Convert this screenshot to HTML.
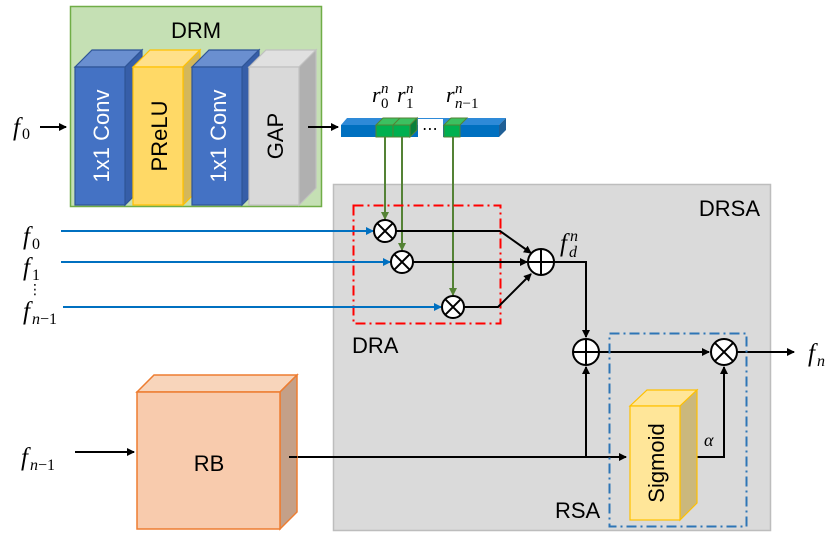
<!DOCTYPE html>
<html><head><meta charset="utf-8"><style>
html,body{margin:0;padding:0;background:#fff;}
svg{display:block;}
text{font-family:"Liberation Sans","DejaVu Sans",sans-serif;}
.m{font-family:"Liberation Serif","DejaVu Serif",serif;font-style:italic;}
.s{font-family:"Liberation Serif","DejaVu Serif",serif;}
</style></head><body>
<svg width="831" height="535" viewBox="0 0 831 535" xmlns="http://www.w3.org/2000/svg">
<defs>
<marker id="ab" markerWidth="8" markerHeight="8" refX="7" refY="4" orient="auto" markerUnits="userSpaceOnUse"><path d="M0,0 L8,4 L0,8 z" fill="#000"/></marker>
<marker id="au" markerWidth="8" markerHeight="8" refX="7" refY="4" orient="auto" markerUnits="userSpaceOnUse"><path d="M0,0 L8,4 L0,8 z" fill="#0070c0"/></marker>
<marker id="ag" markerWidth="8" markerHeight="8" refX="7" refY="4" orient="auto" markerUnits="userSpaceOnUse"><path d="M0,0 L8,4 L0,8 z" fill="#548235"/></marker>
</defs>
<rect x="333.5" y="184.5" width="437" height="346" fill="#dadada" stroke="#bdbdbd" stroke-width="1.5"/>
<text x="760" y="216" font-size="22" text-anchor="end">DRSA</text>
<rect x="70.5" y="6.5" width="251" height="200" fill="#c5e0b4" stroke="#70ad47" stroke-width="1.5"/>
<text x="196" y="38" font-size="22" text-anchor="middle">DRM</text>
<g stroke-width="1.2">
<polygon points="75,67 92,50 142,50 125,67" fill="#6a8fd0" stroke="#2f5597"/>
<polygon points="125,67 142,50 142,188 125,205" fill="#365ea8" stroke="#2f5597"/>
<rect x="75" y="67" width="50" height="138" fill="#4472c4" stroke="#2f5597"/>
<polygon points="133,67 150,50 200,50 183,67" fill="#ffe08a" stroke="#ffc000"/>
<polygon points="183,67 200,50 200,188 183,205" fill="#d4b75a" stroke="#ffc000"/>
<rect x="133" y="67" width="50" height="138" fill="#ffd966" stroke="#ffc000"/>
<polygon points="192,67 209,50 259,50 242,67" fill="#6a8fd0" stroke="#2f5597"/>
<polygon points="242,67 259,50 259,188 242,205" fill="#365ea8" stroke="#2f5597"/>
<rect x="192" y="67" width="50" height="138" fill="#4472c4" stroke="#2f5597"/>
<polygon points="249,67 266,50 316,50 299,67" fill="#e0e0e0" stroke="#c0c0c0"/>
<polygon points="299,67 316,50 316,188 299,205" fill="#b0b0b0" stroke="#c0c0c0"/>
<rect x="249" y="67" width="50" height="138" fill="#d9d9d9" stroke="#c0c0c0"/>
</g>
<text transform="translate(109,136) rotate(-90)" font-size="22" fill="#fff" text-anchor="middle">1x1 Conv</text>
<text transform="translate(167,136) rotate(-90)" font-size="22" fill="#000" text-anchor="middle">PReLU</text>
<text transform="translate(226,136) rotate(-90)" font-size="22" fill="#fff" text-anchor="middle">1x1 Conv</text>
<text transform="translate(283,136) rotate(-90)" font-size="22" fill="#000" text-anchor="middle">GAP</text>
<text x="13" y="135" class="m" font-size="25">f</text><text x="22" y="139" class="s" font-size="16">0</text>
<line x1="40" y1="127" x2="66" y2="127" stroke="#000" stroke-width="2" marker-end="url(#ab)"/>
<line x1="308" y1="127" x2="338" y2="127" stroke="#000" stroke-width="2" marker-end="url(#ab)"/>
<polygon points="341,125 347,118 506,118 499,125" fill="#2e8ad8"/>
<polygon points="499,125 506,118 506,130 499,137" fill="#1f5f96"/>
<rect x="341" y="125" width="158" height="12" fill="#0070c0"/>
<g stroke="#548235" stroke-width="1">
<polygon points="376,125 383,118 417,118 410,125" fill="#3cc060"/>
<polygon points="410,125 417,118 417,130 410,137" fill="#08803a"/>
<rect x="376" y="125" width="17" height="12" fill="#00b050"/>
<rect x="393" y="125" width="17" height="12" fill="#00b050"/>
<line x1="393" y1="125" x2="400" y2="118"/>
<rect x="418" y="119" width="25" height="20" fill="#fff" stroke="none"/>
<polygon points="444,125 451,118 467,118 460,125" fill="#3cc060"/>
<rect x="444" y="125" width="16" height="12" fill="#00b050"/>
</g>
<text x="430" y="134" font-size="16" text-anchor="middle">⋯</text>
<!-- r labels -->
<text x="372" y="102" class="m" font-size="22">r</text><text x="381" y="108" class="s" font-size="15">0</text><text x="381" y="93" class="m" font-size="15">n</text>
<text x="397" y="102" class="m" font-size="22">r</text><text x="406" y="108" class="s" font-size="15">1</text><text x="406" y="93" class="m" font-size="15">n</text>
<text x="446" y="102" class="m" font-size="22">r</text><text x="455" y="108" class="m" font-size="15">n<tspan class="s" font-style="normal">−1</tspan></text><text x="455" y="93" class="m" font-size="15">n</text>
<g stroke="#548235" stroke-width="2">
<line x1="385" y1="137" x2="385" y2="219" marker-end="url(#ag)"/>
<line x1="402" y1="137" x2="402" y2="250" marker-end="url(#ag)"/>
<line x1="453" y1="137" x2="453" y2="295" marker-end="url(#ag)"/>
</g>
<rect x="353.5" y="205.5" width="147" height="118" fill="none" stroke="#ff0000" stroke-width="2" stroke-dasharray="10,4,2,4"/>
<text x="352" y="353" font-size="22">DRA</text>
<g stroke="#0070c0" stroke-width="2">
<line x1="61" y1="231" x2="373" y2="231" marker-end="url(#au)"/>
<line x1="61" y1="262" x2="390" y2="262" marker-end="url(#au)"/>
<line x1="63" y1="307" x2="441" y2="307" marker-end="url(#au)"/>
</g>
<text x="23" y="244" class="m" font-size="25">f</text><text x="32" y="249" class="s" font-size="16">0</text>
<text x="23" y="275" class="m" font-size="25">f</text><text x="32" y="280" class="s" font-size="16">1</text>
<text x="28" y="294" font-size="14">⋮</text>
<text x="23" y="319" class="m" font-size="25">f</text><text x="32" y="324" class="m" font-size="16">n<tspan class="s" font-style="normal">−1</tspan></text>
<g stroke="#000" stroke-width="2" fill="none">
<polyline points="396,231 500,231 531,253" marker-end="url(#ab)"/>
<line x1="413" y1="262" x2="527" y2="262" marker-end="url(#ab)"/>
<polyline points="464,307 498,307 531,274" marker-end="url(#ab)"/>
<polyline points="554,262 586,262 586,337" marker-end="url(#ab)"/>
<line x1="599" y1="352" x2="709" y2="352" marker-end="url(#ab)"/>
<line x1="737" y1="352" x2="794" y2="352" marker-end="url(#ab)"/>
<line x1="75" y1="452" x2="134" y2="452" marker-end="url(#ab)"/>
<line x1="289" y1="457" x2="626" y2="457" marker-end="url(#ab)"/>
<line x1="586" y1="457" x2="586" y2="367" marker-end="url(#ab)"/>
<polyline points="688,457 724,457 724,367" marker-end="url(#ab)"/>
</g>
<g stroke="#000" stroke-width="2" fill="#fff">
<circle cx="385" cy="231" r="11"/><circle cx="402" cy="262" r="11"/><circle cx="453" cy="307" r="11"/>
<circle cx="724" cy="352" r="13"/>
<circle cx="541" cy="262" r="13"/><circle cx="586" cy="352" r="13"/>
</g>
<g stroke="#000" stroke-width="2">
<path d="M377.2,223.2 L392.8,238.8 M392.8,223.2 L377.2,238.8"/>
<path d="M394.2,254.2 L409.8,269.8 M409.8,254.2 L394.2,269.8"/>
<path d="M445.2,299.2 L460.8,314.8 M460.8,299.2 L445.2,314.8"/>
<path d="M714.8,342.8 L733.2,361.2 M733.2,342.8 L714.8,361.2"/>
<path d="M528,262 L554,262 M541,249 L541,275"/>
<path d="M573,352 L599,352 M586,339 L586,365"/>
</g>
<text x="560" y="251" class="m" font-size="25">f</text><text x="569" y="257" class="m" font-size="16">d</text><text x="570" y="241" class="m" font-size="16">n</text>
<text x="808" y="361" class="m" font-size="25">f</text><text x="817" y="366" class="m" font-size="16">n</text>
<rect x="609.5" y="333.5" width="137" height="193" fill="none" stroke="#2e75b6" stroke-width="2" stroke-dasharray="10,4,2,4"/>
<text x="555" y="518" font-size="22">RSA</text>
<polygon points="630,406 647,390 697,390 680,406" fill="#ffe699" stroke="#ffc000" stroke-width="1.2"/>
<polygon points="680,406 697,390 697,503 680,520" fill="#cbb87c" stroke="#ffc000" stroke-width="1.2"/>
<rect x="630" y="406" width="50" height="114" fill="#ffe699" stroke="#ffc000" stroke-width="1.2"/>
<text transform="translate(664,463) rotate(-90)" font-size="22" text-anchor="middle">Sigmoid</text>
<text x="704" y="446" class="m" font-size="18">α</text>
<polygon points="137,392 154,375 297,375 280,392" fill="#f8d5bb" stroke="#ed7d31" stroke-width="1.5"/>
<polygon points="280,392 297,375 297,512 280,529" fill="#c4a088" stroke="#ed7d31" stroke-width="1.5"/>
<rect x="137" y="392" width="143" height="137" fill="#f8cbad" stroke="#ed7d31" stroke-width="1.5"/>
<line x1="289" y1="457" x2="297" y2="457" stroke="#000" stroke-width="2"/>
<text x="209" y="471" font-size="22" text-anchor="middle">RB</text>
<text x="21" y="465" class="m" font-size="25">f</text><text x="30" y="470" class="m" font-size="16">n<tspan class="s" font-style="normal">−1</tspan></text>
</svg>
</body></html>
